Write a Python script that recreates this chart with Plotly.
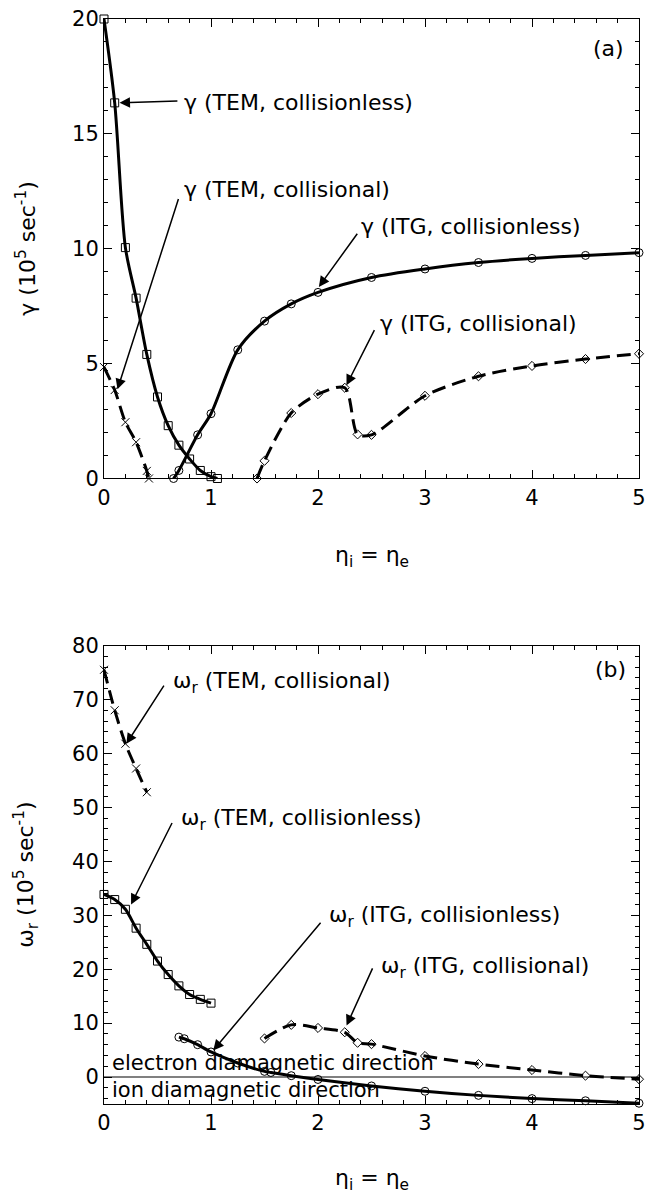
import plotly.graph_objects as go

# ---------------- data: panel (a) growth rate ----------------
tem_cl_x = [0, 0.1, 0.2, 0.3, 0.4, 0.5, 0.6, 0.7, 0.8, 0.9, 1.0, 1.06]
tem_cl_g = [20, 16.35, 10.05, 7.85, 5.4, 3.55, 2.3, 1.45, 0.85, 0.35, 0.08, 0.0]

tem_co_x = [0, 0.1, 0.2, 0.3, 0.4, 0.42]
tem_co_g = [4.85, 3.85, 2.45, 1.58, 0.33, 0.0]

itg_cl_x = [0.65, 0.7, 0.875, 1.0, 1.25, 1.5, 1.75, 2.0, 2.5, 3.0, 3.5, 4.0, 4.5, 5.0]
itg_cl_g = [0.0, 0.35, 1.9, 2.82, 5.6, 6.85, 7.6, 8.1, 8.75, 9.12, 9.4, 9.58, 9.71, 9.83]

itg_co_x = [1.43, 1.5, 1.75, 2.0, 2.25, 2.37, 2.5, 3.0, 3.5, 4.0, 4.5, 5.0]
itg_co_g = [0.0, 0.77, 2.85, 3.67, 3.95, 1.92, 1.9, 3.6, 4.45, 4.9, 5.2, 5.43]

# ---------------- data: panel (b) real frequency ----------------
tem_co_wx = [0, 0.1, 0.2, 0.3, 0.4]
tem_co_w = [75.5, 68.0, 61.8, 57.2, 52.8]

tem_cl_wx = [0, 0.1, 0.2, 0.3, 0.4, 0.5, 0.6, 0.7, 0.8, 0.9, 1.0]
tem_cl_w = [33.85, 32.9, 31.1, 27.6, 24.6, 21.5, 19.0, 16.9, 15.3, 14.4, 13.7]

itg_cl_wx = [0.7, 0.75, 0.875, 1.0, 1.25, 1.5, 1.56, 1.75, 2.0, 2.5, 3.0, 3.5, 4.0, 4.5, 5.0]
itg_cl_w = [7.4, 7.1, 6.0, 4.65, 2.6, 1.05, 0.85, 0.25, -0.45, -1.66, -2.64, -3.4, -4.0, -4.4, -4.86]

itg_co_wx = [1.5, 1.75, 2.0, 2.25, 2.37, 2.5, 3.0, 3.5, 4.0, 4.5, 5.0]
itg_co_w = [7.15, 9.67, 9.1, 8.3, 6.35, 6.1, 3.9, 2.4, 1.3, 0.25, -0.4]

FONT = "DejaVu Sans"
TXT = 22
DIR_TXT = 21
TICK = 21

fig = go.Figure()

def add_series(x, y, xa, ya, symbol, size, dashed):
    fig.add_trace(go.Scatter(
        x=x, y=y, xaxis=xa, yaxis=ya, mode="lines+markers",
        line=dict(color="black", width=3, shape="spline", smoothing=0.8,
                  dash="14px,7px" if dashed else "solid"),
        marker=dict(symbol=symbol, size=size, color="black",
                    line=dict(color="black", width=1)),
        cliponaxis=False, showlegend=False, hoverinfo="skip"))

# panel (a)
add_series(tem_cl_x, tem_cl_g, "x", "y", "square-open", 8, False)
add_series(tem_co_x, tem_co_g, "x", "y", "x-thin-open", 8, True)
add_series(itg_cl_x, itg_cl_g, "x", "y", "circle-open", 8, False)
add_series(itg_co_x, itg_co_g, "x", "y", "diamond-open", 7, True)
# panel (b)
add_series(tem_co_wx, tem_co_w, "x2", "y2", "x-thin-open", 8, True)
add_series(tem_cl_wx, tem_cl_w, "x2", "y2", "square-open", 8, False)
add_series(itg_cl_wx, itg_cl_w, "x2", "y2", "circle-open", 8, False)
add_series(itg_co_wx, itg_co_w, "x2", "y2", "diamond-open", 7, True)

axis_common = dict(
    showgrid=False, showline=True, linecolor="black", linewidth=1,
    mirror="allticks", ticks="inside", ticklen=8, tickwidth=1, tickcolor="black",
    tickfont=dict(family=FONT, size=TICK, color="black"),
)

fig.update_layout(
    width=653, height=1196,
    margin=dict(l=104, r=7, t=13, b=92),
    paper_bgcolor="white", plot_bgcolor="white",
    font=dict(family=FONT, size=TXT, color="black"),
    xaxis=dict(domain=[0, 1], range=[0, 5], dtick=1, tick0=0, zeroline=False,
               anchor="y", minor=dict(dtick=0.2, ticks="inside", ticklen=4,
                                      tickcolor="black"), **axis_common),
    yaxis=dict(domain=[0.5765, 1], range=[0, 20], dtick=5, tick0=0, zeroline=False,
               anchor="x", minor=dict(dtick=1, ticks="inside", ticklen=4,
                                      tickcolor="black"), **axis_common),
    xaxis2=dict(domain=[0, 1], range=[0, 5], dtick=1, tick0=0, zeroline=False,
                anchor="y2", minor=dict(dtick=0.2, ticks="inside", ticklen=4,
                                        tickcolor="black"), **axis_common),
    yaxis2=dict(domain=[0, 0.42255], range=[-5, 80], dtick=10, tick0=0,
                zeroline=True, zerolinecolor="#808080", zerolinewidth=1.5,
                anchor="x2", minor=dict(dtick=2, ticks="inside", ticklen=4,
                                        tickcolor="black"), **axis_common),
)

def label(text, x, y, xa, ya, xanchor="left", size=TXT):
    fig.add_annotation(text=text, x=x, y=y, xref=xa, yref=ya, showarrow=False,
                       xanchor=xanchor, yanchor="middle",
                       font=dict(family=FONT, size=size, color="black"))

def arrow(tx, ty, hx, hy, xa, ya):
    fig.add_annotation(text="", x=hx, y=hy, ax=tx, ay=ty, xref=xa, yref=ya,
                       axref=xa, ayref=ya, showarrow=True, arrowhead=2,
                       arrowsize=1.4, arrowwidth=1.5, arrowcolor="black")

# panel (a) annotations
label("γ (TEM, collisionless)", 0.727, 16.35, "x", "y")
arrow(0.70, 16.43, 0.145, 16.35, "x", "y")
label("γ (TEM, collisional)", 0.727, 12.58, "x", "y")
arrow(0.70, 12.23, 0.126, 3.88, "x", "y")
label("γ (ITG, collisionless)", 2.386, 10.98, "x", "y")
arrow(2.377, 10.72, 2.008, 8.34, "x", "y")
label("γ (ITG, collisional)", 2.56, 6.74, "x", "y")
arrow(2.534, 6.52, 2.266, 4.06, "x", "y")
label("(a)", 4.877, 18.73, "x", "y", xanchor="right")

# panel (b) annotations
label("ω<sub>r</sub> (TEM, collisional)", 0.625, 73.2, "x2", "y2")
arrow(0.569, 72.86, 0.209, 61.78, "x2", "y2")
label("ω<sub>r</sub> (TEM, collisionless)", 0.698, 47.75, "x2", "y2")
arrow(0.643, 47.38, 0.253, 32.0, "x2", "y2")
label("ω<sub>r</sub> (ITG, collisionless)", 2.082, 29.85, "x2", "y2")
arrow(2.036, 28.9, 1.021, 4.93, "x2", "y2")
label("ω<sub>r</sub> (ITG, collisional)", 2.571, 20.25, "x2", "y2")
arrow(2.516, 20.43, 2.267, 9.54, "x2", "y2")
label("(b)", 4.896, 75.6, "x2", "y2", xanchor="right")
label("electron diamagnetic direction", 0.053, 2.53, "x2", "y2", size=DIR_TXT)
label("ion diamagnetic direction", 0.053, -2.47, "x2", "y2", size=DIR_TXT)

# axis titles
def title(text, x, y, xa, ya, angle=0):
    fig.add_annotation(text=text, x=x, y=y, xref=xa, yref=ya, showarrow=False,
                       xanchor="center", yanchor="middle", textangle=angle,
                       font=dict(family=FONT, size=TXT, color="black"))

title("η<sub>i</sub> = η<sub>e</sub>", 0.5, -0.169, "x domain", "y domain")
title("η<sub>i</sub> = η<sub>e</sub>", 0.5, -0.165, "x2 domain", "y2 domain")
title("γ (10<sup>5</sup> sec<sup>-1</sup>)", -0.146, 0.5, "x domain", "y domain", -90)
title("ω<sub>r</sub> (10<sup>5</sup> sec<sup>-1</sup>)", -0.146, 0.5, "x2 domain", "y2 domain", -90)

fig.write_html("out.html")
